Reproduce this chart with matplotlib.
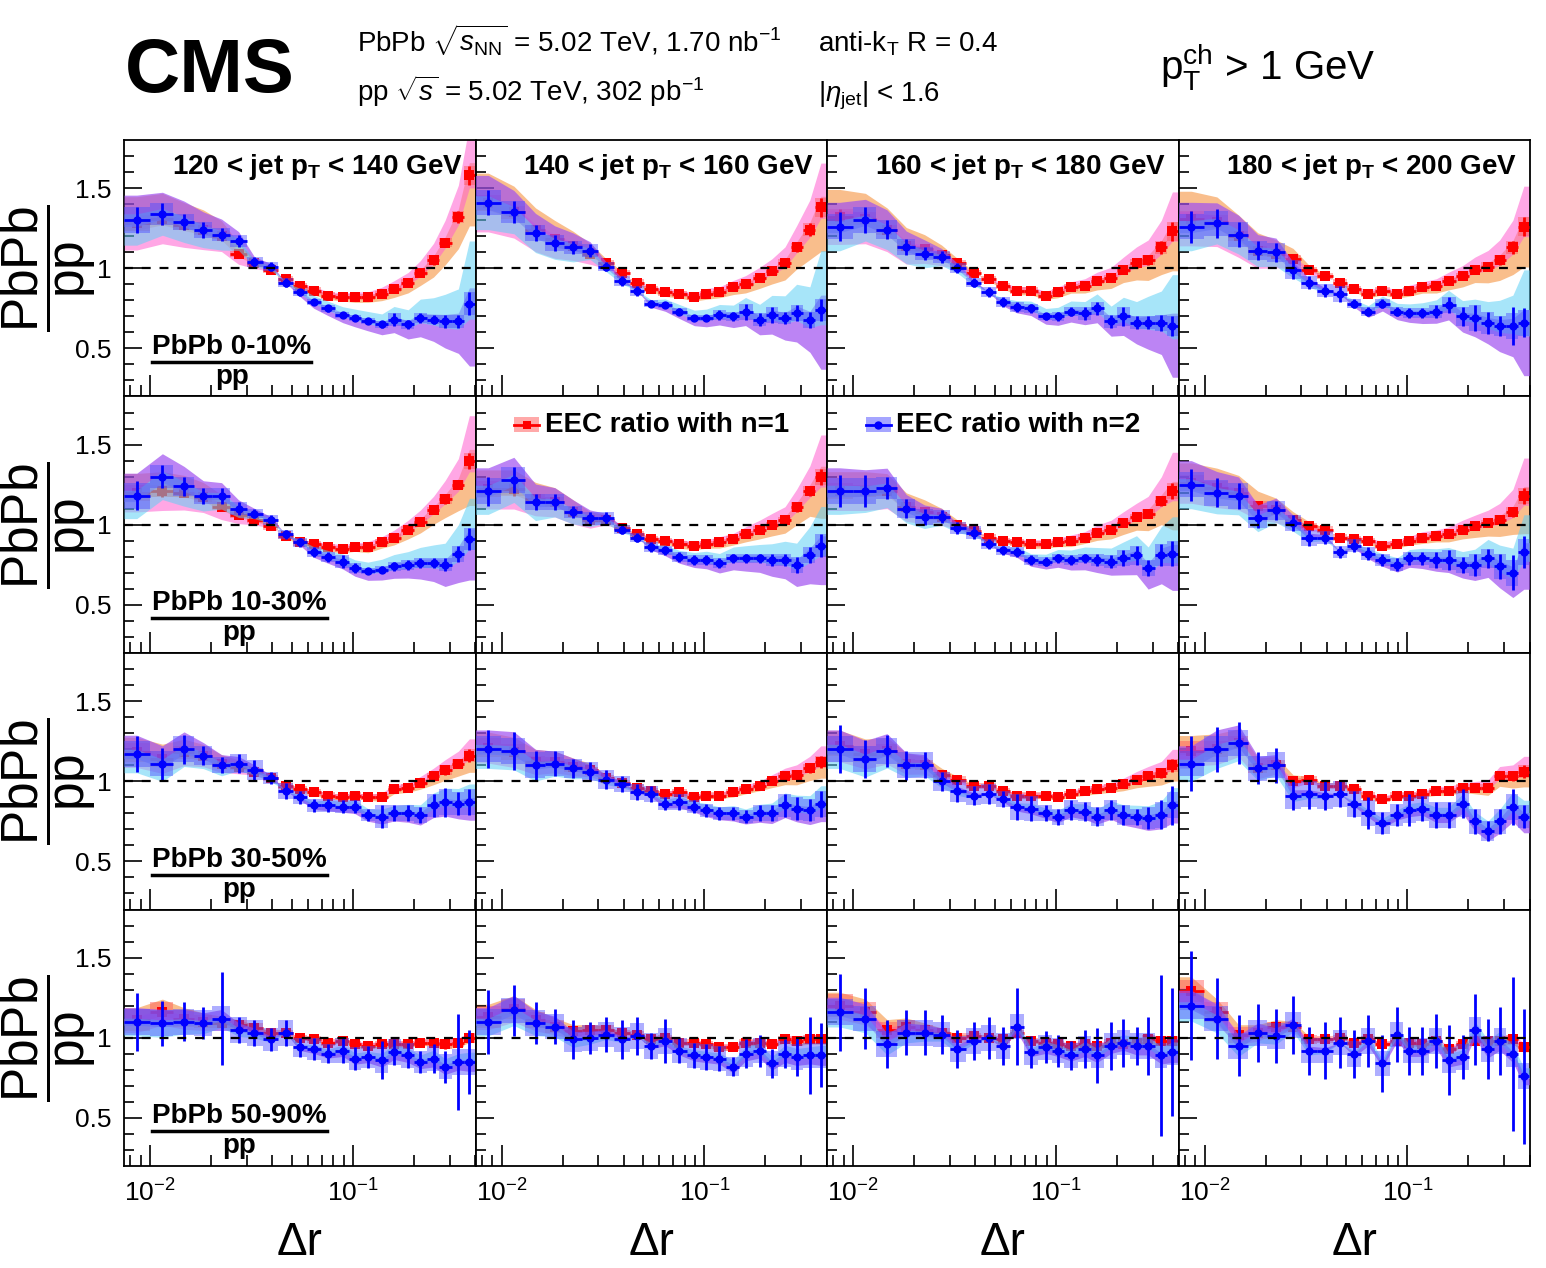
import matplotlib
matplotlib.use("Agg")
import matplotlib.pyplot as plt
import numpy as np
from matplotlib.patches import Rectangle
from matplotlib.lines import Line2D
from matplotlib.ticker import FixedLocator, NullFormatter, FuncFormatter

plt.rcParams['font.family'] = ['Liberation Sans', 'DejaVu Sans']
plt.rcParams['mathtext.fontset'] = 'custom'
plt.rcParams['mathtext.rm'] = 'Liberation Sans'
plt.rcParams['mathtext.it'] = 'Liberation Sans:italic'
plt.rcParams['mathtext.bf'] = 'Liberation Sans:bold'

# ---- data ----
dr = [0.0086, 0.0115, 0.0147, 0.0183, 0.0225, 0.0273, 0.0327, 0.0393, 0.0466,
      0.0547, 0.0641, 0.0753, 0.0892, 0.1023, 0.1186, 0.1389, 0.1595, 0.1871,
      0.2150, 0.2496, 0.2848, 0.331, 0.375]

jet_bins = ['120 < jet p$_{\\mathbf{T}}$ < 140 GeV', '140 < jet p$_{\\mathbf{T}}$ < 160 GeV',
            '160 < jet p$_{\\mathbf{T}}$ < 180 GeV', '180 < jet p$_{\\mathbf{T}}$ < 200 GeV']
centralities = ['PbPb 0-10%', 'PbPb 10-30%', 'PbPb 30-50%', 'PbPb 50-90%']

# EEC ratio n=1, one list per jet pT bin
n1_0_10 = [
    [1.28, 1.31, 1.27, 1.24, 1.20, 1.09, 1.03, 0.99, 0.93, 0.89, 0.86, 0.83, 0.82, 0.82, 0.82, 0.84, 0.87, 0.91, 0.97, 1.05, 1.16, 1.32, 1.58],
    [1.41, 1.35, 1.24, 1.18, 1.14, 1.09, 1.03, 0.97, 0.91, 0.87, 0.85, 0.84, 0.82, 0.84, 0.85, 0.88, 0.90, 0.94, 0.98, 1.03, 1.13, 1.24, 1.38],
    [1.32, 1.31, 1.24, 1.14, 1.12, 1.08, 1.03, 0.97, 0.93, 0.89, 0.86, 0.86, 0.83, 0.85, 0.88, 0.89, 0.92, 0.94, 0.99, 1.03, 1.05, 1.13, 1.23],
    [1.31, 1.29, 1.20, 1.11, 1.09, 1.06, 0.99, 0.95, 0.91, 0.87, 0.84, 0.86, 0.84, 0.86, 0.88, 0.89, 0.92, 0.95, 0.99, 1.01, 1.05, 1.13, 1.26],
]
n1_10_30 = [
    [1.20, 1.21, 1.20, 1.17, 1.11, 1.06, 1.03, 0.99, 0.93, 0.89, 0.88, 0.86, 0.85, 0.86, 0.86, 0.89, 0.92, 0.97, 1.02, 1.09, 1.16, 1.25, 1.40],
    [1.22, 1.22, 1.16, 1.14, 1.08, 1.03, 1.03, 0.98, 0.94, 0.91, 0.90, 0.88, 0.87, 0.88, 0.89, 0.91, 0.94, 0.97, 1.00, 1.03, 1.11, 1.21, 1.30],
    [1.21, 1.21, 1.21, 1.11, 1.08, 1.05, 1.00, 0.96, 0.92, 0.90, 0.89, 0.88, 0.88, 0.89, 0.90, 0.92, 0.95, 0.97, 1.01, 1.05, 1.07, 1.15, 1.21],
    [1.26, 1.23, 1.20, 1.12, 1.09, 1.03, 0.99, 0.97, 0.92, 0.91, 0.90, 0.87, 0.88, 0.90, 0.92, 0.93, 0.94, 0.97, 0.99, 1.01, 1.03, 1.08, 1.18],
]
n1_30_50 = [
    [1.18, 1.14, 1.18, 1.16, 1.11, 1.09, 1.06, 1.02, 0.97, 0.95, 0.93, 0.91, 0.90, 0.91, 0.90, 0.90, 0.95, 0.96, 0.99, 1.03, 1.07, 1.11, 1.16],
    [1.21, 1.18, 1.12, 1.12, 1.09, 1.07, 1.02, 0.99, 0.96, 0.94, 0.92, 0.93, 0.90, 0.91, 0.91, 0.93, 0.95, 0.97, 1.00, 1.03, 1.04, 1.08, 1.12],
    [1.22, 1.17, 1.19, 1.11, 1.10, 1.04, 1.01, 0.97, 0.97, 0.94, 0.91, 0.91, 0.91, 0.90, 0.92, 0.94, 0.95, 0.96, 0.98, 1.01, 1.03, 1.05, 1.10],
    [1.19, 1.20, 1.24, 1.08, 1.10, 1.00, 1.01, 0.97, 0.97, 0.95, 0.91, 0.89, 0.91, 0.91, 0.92, 0.94, 0.94, 0.96, 0.96, 0.96, 1.03, 1.03, 1.06],
]
n1_50_90 = [
    [1.11, 1.16, 1.12, 1.10, 1.09, 1.08, 1.06, 1.03, 1.03, 1.00, 0.99, 0.97, 0.98, 0.96, 0.95, 0.96, 0.96, 0.96, 0.97, 0.97, 0.96, 0.97, 1.00],
    [1.13, 1.18, 1.11, 1.07, 1.04, 1.05, 1.05, 1.03, 1.02, 0.99, 1.00, 0.97, 0.97, 0.96, 0.94, 0.94, 0.97, 0.97, 0.96, 0.99, 0.98, 0.99, 0.99],
    [1.20, 1.16, 1.05, 1.07, 1.05, 1.03, 1.00, 1.01, 1.00, 0.99, 1.03, 0.98, 0.97, 0.96, 0.95, 0.96, 0.95, 0.97, 0.96, 0.97, 0.99, 0.98, 0.98],
    [1.29, 1.16, 1.02, 1.03, 1.07, 1.07, 0.99, 0.99, 1.00, 0.97, 0.99, 0.96, 0.98, 0.97, 0.96, 0.98, 0.93, 0.96, 0.98, 0.98, 0.98, 0.99, 0.94],
]

# EEC ratio n=2
n2_0_10 = [
    [1.30, 1.34, 1.29, 1.24, 1.21, 1.17, 1.04, 1.01, 0.91, 0.85, 0.79, 0.75, 0.71, 0.69, 0.67, 0.65, 0.68, 0.65, 0.69, 0.68, 0.67, 0.67, 0.78],
    [1.41, 1.35, 1.22, 1.16, 1.13, 1.11, 1.01, 0.92, 0.86, 0.78, 0.77, 0.73, 0.69, 0.69, 0.71, 0.70, 0.73, 0.68, 0.71, 0.69, 0.72, 0.68, 0.74],
    [1.26, 1.30, 1.24, 1.13, 1.09, 1.07, 1.00, 0.91, 0.85, 0.79, 0.76, 0.75, 0.70, 0.70, 0.73, 0.72, 0.75, 0.67, 0.70, 0.66, 0.66, 0.66, 0.64],
    [1.26, 1.28, 1.21, 1.11, 1.10, 0.99, 0.91, 0.86, 0.84, 0.78, 0.73, 0.78, 0.73, 0.72, 0.72, 0.73, 0.77, 0.70, 0.69, 0.66, 0.64, 0.64, 0.66],
]
n2_10_30 = [
    [1.18, 1.30, 1.24, 1.18, 1.18, 1.10, 1.07, 1.03, 0.94, 0.89, 0.83, 0.80, 0.77, 0.73, 0.71, 0.72, 0.74, 0.75, 0.76, 0.76, 0.75, 0.82, 0.91],
    [1.21, 1.28, 1.14, 1.14, 1.08, 1.04, 1.04, 0.97, 0.92, 0.86, 0.84, 0.80, 0.78, 0.78, 0.76, 0.79, 0.79, 0.79, 0.78, 0.78, 0.75, 0.81, 0.87],
    [1.21, 1.21, 1.23, 1.10, 1.05, 1.05, 0.98, 0.95, 0.88, 0.84, 0.83, 0.78, 0.77, 0.79, 0.78, 0.79, 0.78, 0.77, 0.79, 0.81, 0.73, 0.81, 0.82],
    [1.25, 1.20, 1.18, 1.04, 1.09, 1.01, 0.92, 0.92, 0.83, 0.87, 0.82, 0.78, 0.75, 0.79, 0.79, 0.78, 0.78, 0.75, 0.75, 0.79, 0.74, 0.70, 0.83],
]
n2_30_50 = [
    [1.17, 1.11, 1.20, 1.16, 1.10, 1.11, 1.07, 1.02, 0.94, 0.90, 0.85, 0.85, 0.84, 0.84, 0.79, 0.78, 0.80, 0.80, 0.79, 0.85, 0.87, 0.86, 0.87],
    [1.20, 1.19, 1.10, 1.11, 1.08, 1.06, 1.01, 0.98, 0.93, 0.92, 0.86, 0.87, 0.84, 0.82, 0.80, 0.80, 0.78, 0.80, 0.80, 0.85, 0.83, 0.82, 0.86],
    [1.20, 1.14, 1.19, 1.10, 1.10, 1.00, 0.94, 0.91, 0.92, 0.89, 0.84, 0.83, 0.80, 0.78, 0.82, 0.81, 0.78, 0.82, 0.79, 0.78, 0.77, 0.79, 0.85],
    [1.11, 1.20, 1.24, 1.08, 1.10, 0.91, 0.92, 0.91, 0.92, 0.86, 0.80, 0.74, 0.79, 0.82, 0.83, 0.79, 0.79, 0.86, 0.75, 0.69, 0.75, 0.84, 0.78],
]
n2_50_90 = [
    [1.10, 1.09, 1.10, 1.09, 1.12, 1.05, 1.03, 0.99, 1.03, 0.94, 0.93, 0.90, 0.92, 0.87, 0.88, 0.86, 0.91, 0.89, 0.85, 0.87, 0.82, 0.85, 0.85],
    [1.10, 1.17, 1.09, 1.07, 0.99, 1.00, 1.02, 0.99, 1.01, 0.95, 0.98, 0.92, 0.89, 0.88, 0.87, 0.82, 0.90, 0.92, 0.84, 0.90, 0.88, 0.89, 0.89],
    [1.16, 1.12, 0.96, 1.03, 1.03, 1.02, 0.93, 0.98, 1.00, 0.95, 1.07, 0.91, 0.94, 0.92, 0.89, 0.93, 0.89, 0.95, 0.97, 0.95, 0.95, 0.89, 0.91],
    [1.20, 1.12, 0.95, 1.03, 1.01, 1.08, 0.92, 0.92, 0.97, 0.90, 0.98, 0.84, 1.02, 0.92, 0.92, 0.98, 0.86, 0.88, 1.05, 0.93, 0.98, 0.90, 0.76],
]

# statistical uncertainties, n=2
e2_0_10 = [
    [0.08, 0.07, 0.05, 0.05, 0.04, 0.04, 0.03, 0.03, 0.03, 0.02, 0.02, 0.02, 0.02, 0.02, 0.02, 0.02, 0.04, 0.03, 0.03, 0.03, 0.04, 0.04, 0.07],
    [0.08, 0.07, 0.05, 0.05, 0.04, 0.04, 0.03, 0.03, 0.03, 0.02, 0.02, 0.02, 0.02, 0.02, 0.03, 0.03, 0.05, 0.04, 0.05, 0.04, 0.05, 0.05, 0.07],
    [0.09, 0.08, 0.06, 0.05, 0.04, 0.04, 0.03, 0.03, 0.03, 0.03, 0.03, 0.03, 0.02, 0.03, 0.03, 0.04, 0.04, 0.04, 0.06, 0.04, 0.04, 0.05, 0.06],
    [0.10, 0.09, 0.08, 0.06, 0.06, 0.06, 0.04, 0.04, 0.05, 0.03, 0.03, 0.03, 0.03, 0.03, 0.03, 0.04, 0.05, 0.06, 0.08, 0.07, 0.06, 0.12, 0.09],
]
e2_10_30 = [
    [0.09, 0.07, 0.06, 0.05, 0.05, 0.04, 0.03, 0.03, 0.03, 0.03, 0.03, 0.03, 0.04, 0.03, 0.02, 0.02, 0.03, 0.03, 0.03, 0.03, 0.04, 0.05, 0.07],
    [0.09, 0.08, 0.05, 0.05, 0.04, 0.04, 0.04, 0.03, 0.03, 0.03, 0.03, 0.03, 0.03, 0.03, 0.03, 0.03, 0.03, 0.03, 0.04, 0.04, 0.05, 0.05, 0.07],
    [0.10, 0.10, 0.07, 0.06, 0.05, 0.04, 0.04, 0.04, 0.03, 0.03, 0.03, 0.03, 0.03, 0.03, 0.03, 0.03, 0.04, 0.04, 0.05, 0.06, 0.05, 0.07, 0.08],
    [0.10, 0.09, 0.08, 0.06, 0.06, 0.05, 0.05, 0.04, 0.04, 0.04, 0.04, 0.04, 0.04, 0.04, 0.04, 0.05, 0.06, 0.05, 0.07, 0.06, 0.08, 0.11, 0.10],
]
e2_30_50 = [
    [0.11, 0.10, 0.09, 0.06, 0.05, 0.06, 0.06, 0.04, 0.05, 0.04, 0.04, 0.04, 0.04, 0.04, 0.04, 0.07, 0.05, 0.05, 0.05, 0.07, 0.09, 0.07, 0.08],
    [0.12, 0.12, 0.09, 0.08, 0.06, 0.06, 0.06, 0.05, 0.05, 0.05, 0.04, 0.05, 0.04, 0.04, 0.04, 0.04, 0.04, 0.05, 0.05, 0.07, 0.07, 0.07, 0.08],
    [0.15, 0.12, 0.10, 0.09, 0.08, 0.06, 0.07, 0.06, 0.06, 0.05, 0.08, 0.08, 0.05, 0.05, 0.06, 0.06, 0.06, 0.06, 0.06, 0.05, 0.07, 0.09, 0.12],
    [0.17, 0.14, 0.13, 0.10, 0.11, 0.09, 0.09, 0.09, 0.08, 0.08, 0.10, 0.07, 0.07, 0.10, 0.08, 0.08, 0.08, 0.09, 0.08, 0.06, 0.08, 0.11, 0.07],
]
e2_50_90 = [
    [0.18, 0.14, 0.12, 0.10, 0.29, 0.08, 0.08, 0.07, 0.08, 0.06, 0.07, 0.06, 0.08, 0.07, 0.07, 0.12, 0.08, 0.08, 0.07, 0.09, 0.10, 0.30, 0.20],
    [0.20, 0.16, 0.13, 0.11, 0.12, 0.10, 0.11, 0.12, 0.12, 0.08, 0.14, 0.08, 0.08, 0.08, 0.08, 0.06, 0.09, 0.10, 0.09, 0.09, 0.12, 0.24, 0.20],
    [0.24, 0.19, 0.15, 0.14, 0.14, 0.12, 0.12, 0.12, 0.13, 0.12, 0.24, 0.10, 0.10, 0.10, 0.09, 0.12, 0.17, 0.15, 0.15, 0.12, 0.18, 0.50, 0.40],
    [0.34, 0.25, 0.19, 0.18, 0.17, 0.18, 0.15, 0.18, 0.16, 0.15, 0.16, 0.18, 0.17, 0.15, 0.15, 0.17, 0.22, 0.14, 0.22, 0.19, 0.21, 0.48, 0.42],
]

# statistical uncertainties, n=1 (per centrality)
e1_0_10 = [0.05, 0.04, 0.03, 0.03, 0.02, 0.02, 0.02, 0.015, 0.015, 0.015, 0.015, 0.015, 0.015, 0.015, 0.015, 0.015, 0.02, 0.02, 0.02, 0.03, 0.03, 0.04, 0.06]
e1_10_30 = [0.05, 0.04, 0.03, 0.03, 0.02, 0.02, 0.02, 0.015, 0.015, 0.015, 0.015, 0.015, 0.015, 0.015, 0.015, 0.015, 0.02, 0.02, 0.02, 0.02, 0.03, 0.03, 0.05]
e1_30_50 = [0.06, 0.05, 0.04, 0.03, 0.03, 0.02, 0.02, 0.02, 0.02, 0.015, 0.015, 0.015, 0.015, 0.015, 0.015, 0.02, 0.02, 0.02, 0.02, 0.02, 0.03, 0.03, 0.04]
e1_50_90 = [0.07, 0.06, 0.05, 0.04, 0.03, 0.03, 0.03, 0.02, 0.02, 0.02, 0.02, 0.02, 0.02, 0.02, 0.02, 0.02, 0.02, 0.02, 0.02, 0.02, 0.03, 0.03, 0.03]

# signed relative systematic bands (per centrality)
s1_0_10 = [0.13, 0.12, 0.11, 0.10, 0.08, 0.06, 0.03, 0.01, -0.01, -0.02, -0.03, -0.03, -0.03, -0.04, -0.04, -0.05, -0.06, -0.07, -0.08, -0.10, -0.12, -0.15, -0.20]
s1_10_30 = [0.10, 0.10, 0.09, 0.08, 0.07, 0.05, 0.03, 0.01, -0.01, -0.02, -0.02, -0.03, -0.03, -0.03, -0.04, -0.04, -0.05, -0.06, -0.07, -0.08, -0.10, -0.13, -0.20]
s1_30_50 = [0.08, 0.08, 0.07, 0.06, 0.05, 0.04, 0.02, 0.01, -0.01, -0.01, -0.02, -0.02, -0.02, -0.02, -0.02, -0.03, -0.03, -0.03, -0.04, -0.05, -0.06, -0.07, -0.09]
s1_50_90 = [0.07, 0.07, 0.06, 0.05, 0.04, 0.03, 0.02, 0.01, 0.00, -0.01, -0.01, -0.01, -0.01, -0.02, -0.02, -0.02, -0.02, -0.02, -0.02, -0.02, -0.03, -0.03, -0.03]
s2_0_10 = [0.12, 0.10, 0.10, 0.09, 0.08, 0.05, 0.03, 0.02, 0.00, -0.03, -0.05, -0.06, -0.07, -0.08, -0.09, -0.10, -0.12, -0.14, -0.17, -0.20, -0.25, -0.30, -0.50]
s2_10_30 = [0.12, 0.11, 0.10, 0.08, 0.07, 0.05, 0.03, 0.02, 0.00, -0.02, -0.04, -0.05, -0.06, -0.07, -0.08, -0.09, -0.10, -0.11, -0.13, -0.15, -0.18, -0.22, -0.28]
s2_30_50 = [0.10, 0.10, 0.09, 0.07, 0.06, 0.04, 0.03, 0.02, 0.00, -0.02, -0.03, -0.04, -0.04, -0.05, -0.05, -0.06, -0.06, -0.07, -0.08, -0.09, -0.10, -0.11, -0.13]
s2_50_90 = [0.08, 0.08, 0.07, 0.06, 0.05, 0.04, 0.03, 0.02, 0.00, -0.02, -0.03, -0.03, -0.04, -0.04, -0.04, -0.05, -0.05, -0.05, -0.05, -0.06, -0.06, -0.06, -0.07]

rows = [
    (n1_0_10, n2_0_10, e1_0_10, e2_0_10, s1_0_10, s2_0_10),
    (n1_10_30, n2_10_30, e1_10_30, e2_10_30, s1_10_30, s2_10_30),
    (n1_30_50, n2_30_50, e1_30_50, e2_30_50, s1_30_50, s2_30_50),
    (n1_50_90, n2_50_90, e1_50_90, e2_50_90, s1_50_90, s2_50_90),
]

RED, BLUE = '#ff0000', '#0000ff'
ORANGE, PINK = '#f7a35c', '#ff5fd0'
CYAN, PURPLE = '#5fd0f5', '#a050f0'

W, H = 1546, 1268
x = np.array(dr)
lx = np.log10(x)
ledges = np.concatenate([[lx[0] - (lx[1] - lx[0]) / 2], (lx[1:] + lx[:-1]) / 2,
                         [lx[-1] + (lx[-1] - lx[-2]) / 2]])
edges = 10 ** ledges
xb = np.concatenate([[edges[0]], x, [edges[-1]]])


def ext(a):
    a = np.asarray(a, float)
    return np.concatenate([[a[0]], a, [a[-1]]])


def draw_series(ax, y, err, rel, c_plus, c_minus, box_col, color, marker, ms, z):
    y = np.asarray(y, float)
    err = np.asarray(err, float)
    d = np.asarray(rel) * y
    yb, db = ext(y), ext(d)
    ax.fill_between(xb, yb + db, yb - 0.25 * db, color=c_plus, alpha=0.7, lw=0, zorder=z)
    ax.fill_between(xb, yb - db, yb + 0.25 * db, color=c_minus, alpha=0.55, lw=0, zorder=z + 0.1)
    box = np.clip(err, 0.02, 0.08)
    for i in range(len(y)):
        ax.add_patch(Rectangle((edges[i], y[i] - box[i]), edges[i + 1] - edges[i], 2 * box[i],
                               color=box_col, alpha=0.45, lw=0, zorder=z + 1))
    xerr = [x - edges[:-1], edges[1:] - x]
    ax.errorbar(x, y, yerr=err, xerr=xerr, fmt='none', ecolor=color, elinewidth=2.0,
                capsize=0, zorder=z + 2)
    ax.plot(x, y, marker, color=color, ms=ms, mew=0, ls='none', zorder=z + 3)


fig = plt.figure(figsize=(W / 100, H / 100), dpi=100)
axes = fig.subplots(4, 4, sharex=True, sharey=True, gridspec_kw=dict(hspace=0, wspace=0))
fig.subplots_adjust(left=124 / W, right=1530 / W, top=1 - 140 / H, bottom=1 - 1166 / H)

for r in range(4):
    n1, n2, e1, e2, s1, s2 = rows[r]
    for c in range(4):
        ax = axes[r, c]
        ax.axhline(1.0, color='black', ls=(0, (4, 4)), lw=1.6, zorder=10)
        draw_series(ax, n1[c], e1, s1, ORANGE, PINK, '#ff5555', RED, 's', 6.5, 1)
        draw_series(ax, n2[c], e2[c], s2, PURPLE, CYAN, '#4d4dff', BLUE, 'o', 6, 5)

        ax.set_xscale('log')
        ax.set_xlim(edges[0], 0.402)
        ax.set_ylim(0.2, 1.8)
        ax.yaxis.set_major_locator(FixedLocator([0.5, 1.0, 1.5]))
        ax.yaxis.set_minor_locator(FixedLocator(np.arange(0.3, 1.8, 0.1)))
        ax.yaxis.set_major_formatter(FuncFormatter(lambda v, p: '%g' % v))
        ax.xaxis.set_minor_formatter(NullFormatter())
        ax.tick_params(which='both', direction='in', top=False, right=False,
                       labelsize=19, width=1.2)
        ax.tick_params(axis='y', which='major', length=13, pad=9)
        ax.tick_params(axis='y', which='minor', length=7)
        ax.tick_params(axis='x', which='major', length=15, pad=10)
        ax.tick_params(axis='x', which='minor', length=8)
        for sp in ax.spines.values():
            sp.set_linewidth(1.3)

        if r == 0:
            ax.text(0.963, 0.955, jet_bins[c], transform=ax.transAxes, ha='right', va='top',
                    fontsize=20, fontweight='bold')
        if r == 3:
            ax.set_xlabel('Δr', fontsize=33, labelpad=10)

    # centrality label as a fraction
    ax0 = axes[r, 0]
    t = ax0.text(0.08, 0.143, centralities[r], transform=ax0.transAxes, ha='left',
                 va='bottom', fontsize=20, fontweight='bold')
    fig.canvas.draw()
    bb = t.get_window_extent().transformed(ax0.transAxes.inverted())
    ax0.add_line(Line2D([bb.x0, bb.x1], [0.135, 0.135], transform=ax0.transAxes,
                        color='black', lw=2.5))
    ax0.text((bb.x0 + bb.x1) / 2, 0.128, 'pp', transform=ax0.transAxes, ha='center',
             va='top', fontsize=20, fontweight='bold')

    # y axis label PbPb / pp, written as one fraction
    yc = 1 - [268, 525, 781, 1038][r] / H
    fig.text(48 / W, yc, r'$\dfrac{\mathrm{PbPb}}{\mathrm{pp}}$', rotation=90,
             ha='center', va='center', fontsize=37)

# legend entries in the second row
for c, lab, bcol, col, mk in [(1, 'EEC ratio with n=1', '#ff5555', RED, 's'),
                              (2, 'EEC ratio with n=2', '#4d4dff', BLUE, 'o')]:
    ax = axes[1, c]
    yl = 0.89
    ax.add_patch(Rectangle((0.11, yl - 0.03), 0.072, 0.06, transform=ax.transAxes,
                           color=bcol, alpha=0.5, lw=0, zorder=20))
    ax.add_line(Line2D([0.11, 0.182], [yl, yl], transform=ax.transAxes, color=col, lw=2, zorder=21))
    ax.add_line(Line2D([0.146], [yl], transform=ax.transAxes, color=col, marker=mk, ms=6,
                       mew=0, zorder=22))
    ax.text(0.197, yl, lab, transform=ax.transAxes, ha='left', va='center',
            fontsize=20, fontweight='bold', zorder=22)

# header
fig.text(125 / W, 1 - 92 / H, 'CMS', fontsize=55, fontweight='bold', va='baseline')
fig.text(357 / W, 1 - 52 / H, r'PbPb $\sqrt{s_{\mathrm{NN}}}$ = 5.02 TeV, 1.70 nb$^{-1}$',
         fontsize=20, va='baseline')
fig.text(357 / W, 1 - 101 / H, r'pp $\sqrt{s}$ = 5.02 TeV, 302 pb$^{-1}$',
         fontsize=20, va='baseline')
fig.text(818 / W, 1 - 52 / H, r'anti-k$_{\mathrm{T}}$ R = 0.4', fontsize=20, va='baseline')
fig.text(818 / W, 1 - 101 / H, r'|$\eta_{\mathrm{jet}}$| < 1.6', fontsize=20, va='baseline')
fig.text(1160 / W, 1 - 80 / H, r'p$_{\mathrm{T}}^{\mathrm{ch}}$ > 1 GeV', fontsize=29,
         va='baseline')

fig.savefig('out.png', dpi=100)
